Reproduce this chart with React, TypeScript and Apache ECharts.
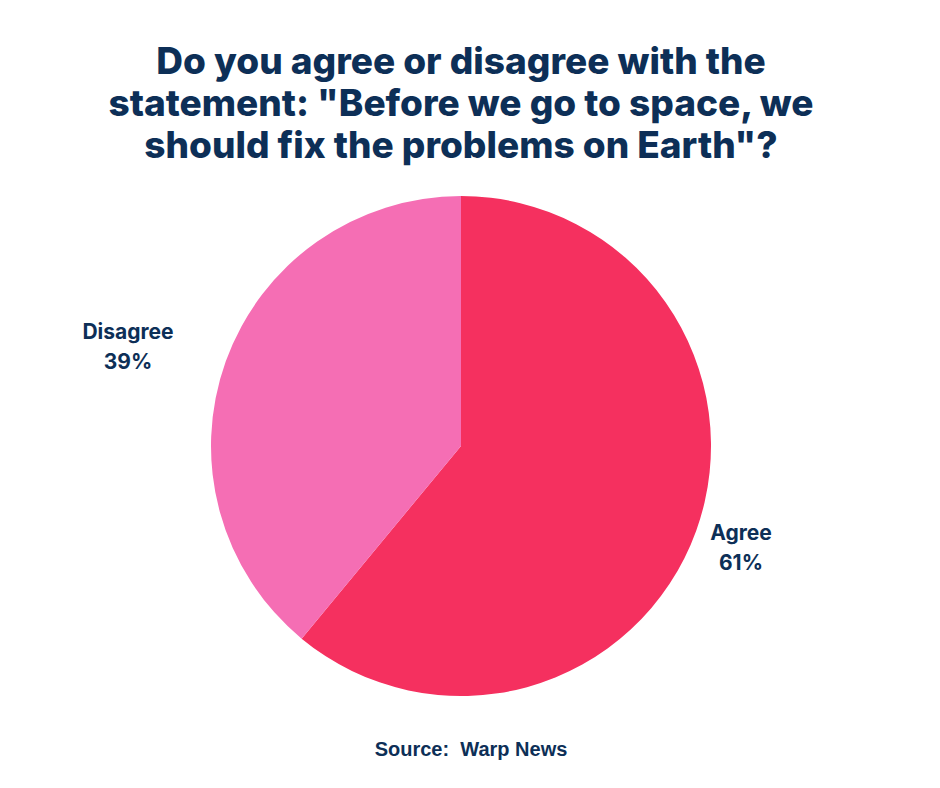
import React, { useEffect, useRef } from "react";
import * as echarts from "echarts";

const categories = ["Agree", "Disagree"];
const values = [61, 39];
const colors = ["#F5305F", "#F56EB4"];
const titleText =
  'Do you agree or disagree with the\nstatement: "Before we go to space, we\nshould fix the problems on Earth"?';
const sourceText = "Source:  Warp News";

export default function App() {
  const ref = useRef<HTMLDivElement>(null);
  useEffect(() => {
    document.body.style.margin = "0";
    const chart = echarts.init(ref.current!, null, { renderer: "svg" });
    const navy = "#0D2F57";
    chart.setOption({
      animation: false,
      backgroundColor: "#ffffff",
      title: [
        {
          text: titleText,
          left: 456,
          top: 34,
          textAlign: "center",
          textStyle: {
            fontFamily: "Inter",
            fontWeight: 800,
            fontSize: 37,
            lineHeight: 42,
            color: navy,
          },
        },
        {
          text: sourceText,
          left: 466,
          top: 734,
          textAlign: "center",
          textStyle: {
            fontFamily: "Liberation Sans",
            fontWeight: "bold",
            fontSize: 20,
            color: navy,
          },
        },
      ],
      series: [
        {
          type: "pie",
          center: [461, 446],
          radius: [0, 250],
          startAngle: 90,
          clockwise: true,
          data: categories.map((c, i) => ({
            name: c,
            value: values[i],
            itemStyle: { color: colors[i] },
          })),
          label: {
            show: true,
            position: "outside",
            formatter: "{b}\n{c}%",
            fontFamily: "Inter",
            fontWeight: "bold",
            fontSize: 21,
            lineHeight: 30,
            color: navy,
            align: "center",
          },
          labelLine: { show: false },
          labelLayout: (p: any) =>
            p.dataIndex === 0
              ? { x: 741, y: 547, align: "center", verticalAlign: "middle" }
              : { x: 128, y: 346, align: "center", verticalAlign: "middle" },
          emphasis: { disabled: true },
        },
      ],
    });
    return () => chart.dispose();
  }, []);
  return (
    <div
      ref={ref}
      style={{ position: "absolute", left: 0, top: 0, width: 940, height: 788 }}
    />
  );
}
